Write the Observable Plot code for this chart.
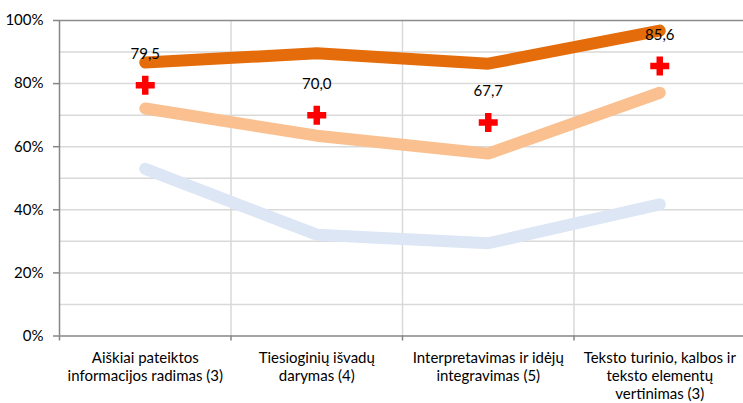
<!DOCTYPE html>
<html>
<head>
<meta charset="utf-8">
<script src="https://cdn.jsdelivr.net/npm/d3@7"></script>
<script src="https://cdn.jsdelivr.net/npm/@observablehq/plot@0.6"></script>
<style>
  html, body { margin: 0; padding: 0; background: #fff; }
  #chart svg { display: block; }
</style>
</head>
<body>
<div id="chart"></div>
<script>
const categories = [
  "Aiškiai pateiktos\ninformacijos radimas (3)",
  "Tiesioginių išvadų\ndarymas (4)",
  "Interpretavimas ir idėjų\nintegravimas (5)",
  "Teksto turinio, kalbos ir\nteksto elementų\nvertinimas (3)"
];
const seriesTop = [86.7, 89.6, 86.3, 96.8];
const seriesMid = [72.1, 63.5, 57.8, 77.1];
const seriesLow = [53.0, 32.1, 29.4, 41.7];
const markerValues = [79.5, 70.0, 67.7, 85.6];
const yTicks = [0, 20, 40, 60, 80, 100];
const yGrid = [10, 20, 30, 40, 50, 60, 70, 80, 90];

const pos = categories.map((c, i) => i + 0.5);
const bounds = d3.range(categories.length + 1);
const rows = (vals) => vals.map((v, i) => ({x: pos[i], y: v}));

const thickPlus = {
  draw(ctx, size) {
    const r = Math.sqrt(size / Math.PI);
    const w = r * 0.34;
    ctx.moveTo(-w, -r); ctx.lineTo(w, -r); ctx.lineTo(w, -w); ctx.lineTo(r, -w);
    ctx.lineTo(r, w); ctx.lineTo(w, w); ctx.lineTo(w, r); ctx.lineTo(-w, r);
    ctx.lineTo(-w, w); ctx.lineTo(-r, w); ctx.lineTo(-r, -w); ctx.lineTo(-w, -w);
    ctx.closePath();
  }
};

const lineOpts = (color) => ({
  x: "x", y: "y", stroke: color, strokeWidth: 12,
  strokeLinecap: "round", strokeLinejoin: "miter"
});

const chart = Plot.plot({
  width: 743,
  height: 403,
  marginTop: 20,
  marginBottom: 67.5,
  marginLeft: 59,
  marginRight: 0,
  style: {fontFamily: "Lato, 'Open Sans', sans-serif", fontSize: "15px", color: "#000", background: "#fff"},
  x: {domain: [0, categories.length], range: [59, 745], label: null},
  y: {domain: [0, 100], label: null},
  marks: [
    Plot.ruleY(yGrid, {stroke: "#d9d9d9", strokeWidth: 1.5}),
    Plot.ruleX(bounds.slice(1, -1), {stroke: "#d9d9d9", strokeWidth: 1.5}),
    Plot.ruleY([100], {stroke: "#8c8c8c", strokeWidth: 1.5}),
    Plot.axisY({
      ticks: yTicks, tickSize: 6, tickPadding: 10, label: null,
      tickFormat: d => d + "%", stroke: "#868686", strokeWidth: 1.5,
      fontSize: 15, fill: "#000"
    }),
    Plot.ruleX([0], {stroke: "#868686", strokeWidth: 1.5}),
    Plot.ruleY([0], {stroke: "#868686", strokeWidth: 1.5}),
    Plot.axisX({
      ticks: bounds, tickSize: 5, tickFormat: () => "", label: null,
      stroke: "#868686", strokeWidth: 1.5
    }),
    Plot.axisX({
      ticks: pos, tickSize: 0, tickPadding: 14, label: null,
      tickFormat: (d) => categories[Math.floor(d)],
      fontSize: 15, fill: "#000", lineHeight: 1.2
    }),
    Plot.line(rows(seriesLow), lineOpts("#dce6f4")),
    Plot.line(rows(seriesMid), lineOpts("#fac090")),
    Plot.line(rows(seriesTop), lineOpts("#e46c0a")),
    Plot.dot(rows(markerValues), {x: "x", y: "y", symbol: thickPlus, r: 9.5, fill: "#ff0000", stroke: null}),
    Plot.text(rows(markerValues), {
      x: "x", y: "y", dy: -31,
      text: d => d.y.toFixed(1).replace(".", ","),
      fontSize: 15, fill: "#000"
    })
  ]
});
document.getElementById("chart").appendChild(chart);
</script>
</body>
</html>
